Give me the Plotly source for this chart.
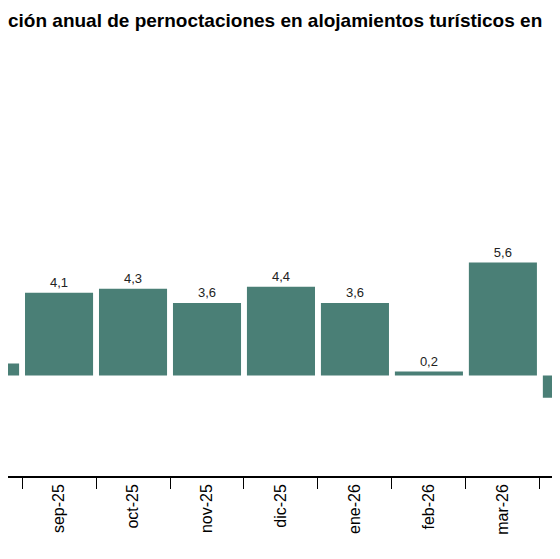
import plotly.graph_objects as go

categories = ["ago-25", "sep-25", "oct-25", "nov-25", "dic-25", "ene-26", "feb-26", "mar-26", "abr-26"]
values = [0.6, 4.1, 4.3, 3.6, 4.4, 3.6, 0.2, 5.6, -1.1]
labels = ["", "4,1", "4,3", "3,6", "4,4", "3,6", "0,2", "5,6", ""]

fig = go.Figure(go.Bar(
    x=categories, y=values, text=labels, textposition="outside", cliponaxis=True,
    textfont=dict(family="Arial, Liberation Sans", size=13, color="#222"),
    marker=dict(color="#4a7f76", line=dict(width=0)), width=0.92,
))
fig.update_layout(
    width=560, height=559, margin=dict(l=0, r=0, t=0, b=91),
    plot_bgcolor="white", paper_bgcolor="white", showlegend=False,
    font=dict(family="Arial, Liberation Sans", color="black"),
    annotations=[dict(text="<b>ción anual de pernoctaciones en alojamientos turísticos en</b>",
                      xref="paper", yref="paper", x=-0.003, y=1.0, xanchor="left", yanchor="top",
                      showarrow=False, font=dict(size=19, color="black"))],
)
fig.update_xaxes(range=[0.31, 7.88], tickson="boundaries", ticks="outside", ticklen=11,
                 tickcolor="black", tickangle=-90, tickfont=dict(size=16, color="black"),
                 showline=True, linecolor="black", linewidth=1.5, showgrid=False)
fig.update_yaxes(range=[-4.97, 18.2], visible=False, showgrid=False, zeroline=True,
                 zerolinecolor="#555", zerolinewidth=2)
fig.write_html("out.html")
